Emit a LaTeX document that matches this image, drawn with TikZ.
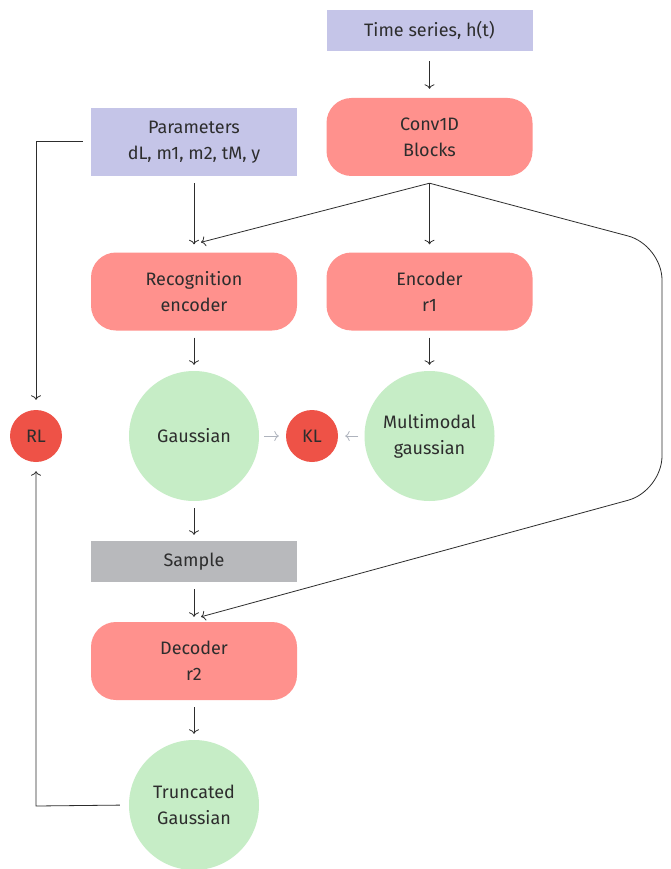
\documentclass[tikz,border=0pt]{standalone}
\usepackage{fontspec}
\setmainfont{Fira Sans}
\usetikzlibrary{calc,arrows.meta}
\definecolor{lav}{RGB}{197,197,232}
\definecolor{salmon}{RGB}{255,145,141}
\definecolor{mint}{RGB}{198,237,198}
\definecolor{redc}{RGB}{238,82,71}
\definecolor{grayb}{RGB}{184,185,188}
\definecolor{txt}{RGB}{45,45,45}
\definecolor{lgray}{RGB}{174,179,189}
\tikzset{
  base/.style={inner sep=0pt, align=center, text=txt, font=\fontsize{18}{26}\selectfont},
  lavbox/.style={base, fill=lav, minimum width=206pt},
  redbox/.style={base, fill=salmon, rounded corners=25pt, minimum width=206pt, minimum height=78pt},
  graybox/.style={base, fill=grayb, minimum width=206pt, minimum height=41pt},
  gcirc/.style={base, circle, fill=mint, minimum size=130pt},
  rcirc/.style={base, circle, fill=redc, minimum size=52pt},
  arr/.style={-{To[length=4.5pt,width=10pt]}, draw=txt, line width=0.8pt},
  garr/.style={-{To[length=4.5pt,width=10pt]}, draw=lgray, line width=0.8pt},
}
\begin{document}
\begin{tikzpicture}[x=1pt,y=-1pt]
\clip (0,0) rectangle (670,869);
\fill[white] (0,0) rectangle (670,869);
\node[lavbox, minimum height=41pt] (ts) at (429.5,30.5) {Time series, h(t)};
\node[redbox] (conv) at (429.5,137) {Conv1D\\Blocks};
\node[lavbox, minimum height=68pt] (par) at (194,142) {Parameters\\dL, m1, m2, tM, y};
\node[redbox] (rec) at (194,291.5) {Recognition\\encoder};
\node[redbox] (enc) at (429.5,291.5) {Encoder\\r1};
\node[gcirc] (gau) at (194,436) {Gaussian};
\node[rcirc] (kl) at (312,436) {KL};
\node[gcirc] (mm) at (429.5,436) {Multimodal\\gaussian};
\node[rcirc] (rl) at (36,436) {RL};
\node[graybox] (samp) at (194,561.5) {Sample};
\node[redbox] (dec) at (194,661) {Decoder\\r2};
\node[gcirc] (tg) at (194,805) {Truncated\\Gaussian};

\coordinate (split) at ($(conv.south)+(0,7)$);
\coordinate (c1) at (662,245);
\coordinate (c2) at (662,491);
\coordinate (l1) at (36,141);
\coordinate (l2) at (36,806);

\draw[arr, shorten <=10pt, shorten >=9pt] (ts) -- (conv);
\draw[arr, shorten <=7pt, shorten >=8pt] (par) -- (rec);
\draw[arr] (split) -- ($(rec.north)+(7,-10)$);
\draw[arr, shorten >=8pt] (split) -- (enc.north);
\draw[arr, rounded corners=35pt] (split) -- (c1) -- (c2) -- ($(dec.north)+(7,-5)$);
\draw[arr, shorten <=7pt, shorten >=6pt] (rec) -- (gau);
\draw[arr, shorten <=7pt, shorten >=6pt] (enc) -- (mm);
\draw[garr, shorten <=5pt, shorten >=7pt] (gau) -- (kl);
\draw[garr, shorten <=6pt, shorten >=7pt] (mm) -- (kl);
\draw[arr, shorten <=7pt, shorten >=6pt] (gau) -- (samp);
\draw[arr, shorten <=7pt, shorten >=5pt] (samp) -- (dec);
\draw[arr, shorten <=7pt, shorten >=6pt] (dec) -- (tg);
\draw[arr, shorten <=8pt] ($(par.west)+(0,-1)$) -- (l1) -- ($(rl.north)+(0,-10)$);
\draw[arr, shorten <=9pt] (tg.west) -- (l2) -- ($(rl.south)+(0,9)$);
\end{tikzpicture}
\end{document}
